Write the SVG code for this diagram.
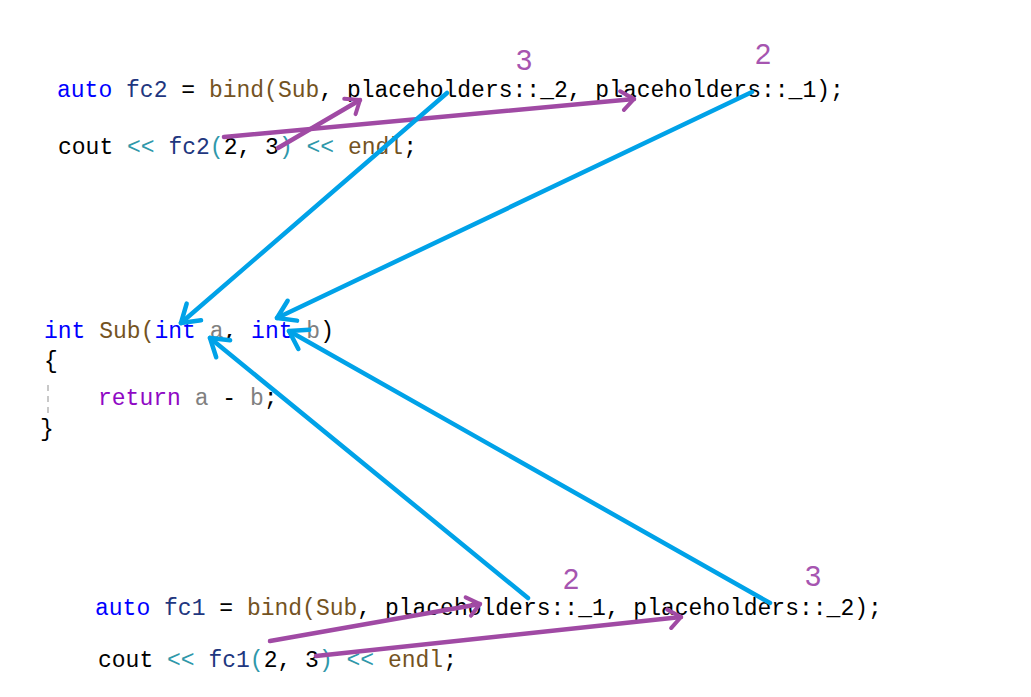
<svg xmlns="http://www.w3.org/2000/svg" width="1031" height="697" viewBox="0 0 1031 697">
<defs>
<style>
.code{font-family:"Liberation Mono","DejaVu Sans Mono",monospace;font-size:23px;fill:#000;white-space:pre}
.kw{fill:#0000ff}.var{fill:#1f377f}.fn{fill:#74531f}.op{fill:#2f98aa}.par{fill:#808080}.ret{fill:#8f08c4}
.num{font-family:"Liberation Sans","Noto Sans",sans-serif;font-size:29px;fill:#a655b0;text-anchor:middle}
.pa{stroke:#a04aa4;stroke-width:4.5;fill:none;stroke-linecap:round}
.bl{stroke:#00a2e8;stroke-width:4.5;fill:none;stroke-linecap:round}
</style>
<marker id="hp" markerUnits="userSpaceOnUse" viewBox="-16 -12 20 24" markerWidth="20" markerHeight="24" refX="0" refY="0" orient="auto">
<path d="M-13,-9 L0,0 L-11,10" fill="none" stroke="#a04aa4" stroke-width="4" stroke-linecap="round" stroke-linejoin="round"/>
</marker>
<marker id="hb" markerUnits="userSpaceOnUse" viewBox="-20 -14 24 28" markerWidth="24" markerHeight="28" refX="0" refY="0" orient="auto">
<path d="M-17,-11 L0,0 L-17,11" fill="none" stroke="#00a2e8" stroke-width="4.5" stroke-linecap="round" stroke-linejoin="round"/>
</marker>
</defs>
<rect width="1031" height="697" fill="#fff"/>
<g id="fc2-code">
<text class="code" x="57" y="97" xml:space="preserve"><tspan class="kw">auto</tspan> <tspan class="var">fc2</tspan> = <tspan class="fn">bind(Sub</tspan>, placeholders::_2, placeholders::_1);</text>
<text class="code" x="58" y="154" xml:space="preserve">cout <tspan class="op">&lt;&lt;</tspan> <tspan class="var">fc2</tspan><tspan class="op">(</tspan>2, 3<tspan class="op">)</tspan> <tspan class="op">&lt;&lt;</tspan> <tspan class="fn">endl</tspan>;</text>
</g>
<g id="sub-code">
<text class="code" x="44" y="338" xml:space="preserve"><tspan class="kw">int</tspan> <tspan class="fn">Sub(</tspan><tspan class="kw">int</tspan> <tspan class="par">a</tspan>, <tspan class="kw">int</tspan> <tspan class="par">b</tspan>)</text>
<text class="code" x="44" y="368" fill="#5a4010">{</text>
<line x1="48" y1="385" x2="48" y2="416" stroke="#c8c8c8" stroke-width="2" stroke-dasharray="6,5"/>
<text class="code" x="98" y="405" xml:space="preserve"><tspan class="ret">return</tspan> <tspan class="par">a</tspan> - <tspan class="par">b</tspan>;</text>
<text class="code" x="40" y="436" fill="#5a4010">}</text>
</g>
<g id="fc1-code">
<text class="code" x="95" y="615" xml:space="preserve"><tspan class="kw">auto</tspan> <tspan class="var">fc1</tspan> = <tspan class="fn">bind(Sub</tspan>, placeholders::_1, placeholders::_2);</text>
<text class="code" x="98" y="667" xml:space="preserve">cout <tspan class="op">&lt;&lt;</tspan> <tspan class="var">fc1</tspan><tspan class="op">(</tspan>2, 3<tspan class="op">)</tspan> <tspan class="op">&lt;&lt;</tspan> <tspan class="fn">endl</tspan>;</text>
</g>
<g id="labels">
<text class="num" x="524" y="70">3</text>
<text class="num" x="763" y="64">2</text>
<text class="num" x="571" y="589">2</text>
<text class="num" x="813" y="586">3</text>
</g>
<g id="connectors">
<line class="pa" x1="224" y1="137" x2="634" y2="99" marker-end="url(#hp)"/>
<line class="pa" x1="278" y1="148" x2="360" y2="100" marker-end="url(#hp)"/>
<line class="bl" x1="447" y1="93" x2="181" y2="323" marker-end="url(#hb)"/>
<line class="bl" x1="752" y1="92" x2="277" y2="318" marker-end="url(#hb)"/>
<line class="bl" x1="528" y1="598" x2="210" y2="338" marker-end="url(#hb)"/>
<line class="bl" x1="770" y1="603" x2="289" y2="331" marker-end="url(#hb)"/>
<line class="pa" x1="270" y1="641" x2="480" y2="604" marker-end="url(#hp)"/>
<line class="pa" x1="316" y1="656" x2="681" y2="617" marker-end="url(#hp)"/>
</g>
</svg>
